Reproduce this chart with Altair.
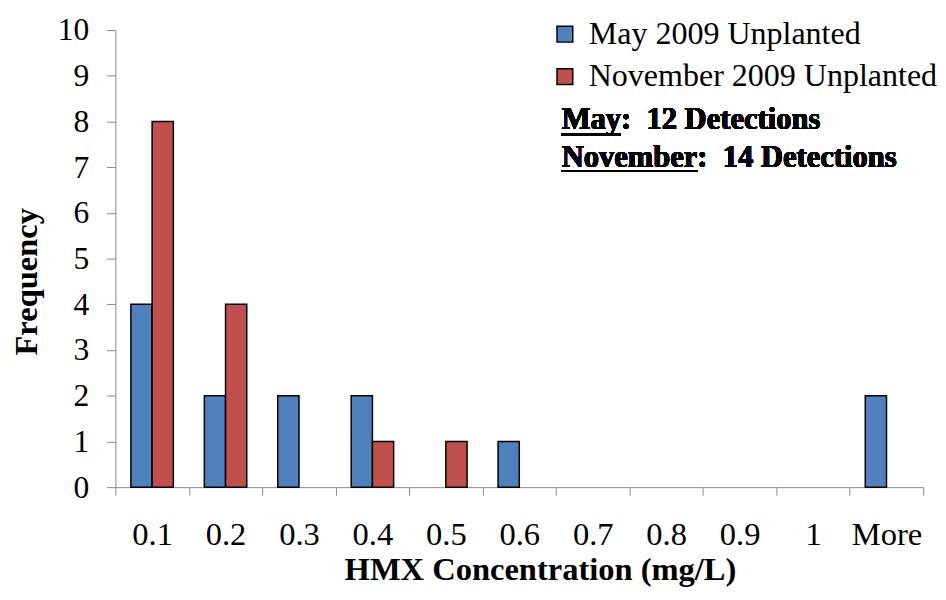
import altair as alt
import pandas as pd

categories = ["0.1", "0.2", "0.3", "0.4", "0.5", "0.6", "0.7", "0.8", "0.9", "1", "More"]
series_names = ["May 2009 Unplanted", "November 2009 Unplanted"]
may_values = [4, 2, 2, 2, 0, 1, 0, 0, 0, 0, 2]
nov_values = [8, 4, 0, 1, 1, 0, 0, 0, 0, 0, 0]
colors = ["#4F81BD", "#C0504D"]
y_ticks = list(range(0, 11))
note_lines = ["May:\u00a0 12 Detections", "November:\u00a0 14 Detections"]
note_underlined = ["May", "November"]

rows = []
for c, v in zip(categories, may_values):
    rows.append({"cat": c, "series": series_names[0], "value": v})
for c, v in zip(categories, nov_values):
    rows.append({"cat": c, "series": series_names[1], "value": v})
df = pd.DataFrame(rows)

FONT = "Liberation Serif"
W, H = 820, 464

bars = alt.Chart(df).transform_filter("datum.value > 0").mark_bar(
    stroke="black", strokeWidth=1.5
).encode(
    x=alt.X("cat:N", sort=categories, title="HMX Concentration (mg/L)",
            scale=alt.Scale(domain=categories, paddingInner=0, paddingOuter=0),
            axis=alt.Axis(labelAngle=0, tickBand="extent", tickSize=8,
                          labelPadding=24, labelFontSize=33, labelFont=FONT,
                          labelColor="black", titleFont=FONT, titleFontSize=33,
                          titleFontWeight="bold", titleColor="black",
                          titleX=431, titleY=94, titleBaseline="alphabetic",
                          domainColor="#868686", tickColor="#868686", grid=False)),
    xOffset=alt.XOffset("series:N", sort=series_names,
                        scale=alt.Scale(domain=series_names, paddingOuter=0.73, paddingInner=0)),
    y=alt.Y("value:Q", title="Frequency",
            scale=alt.Scale(domain=[0, 10], nice=False),
            axis=alt.Axis(values=y_ticks, tickSize=9, labelPadding=18,
                          labelFontSize=32, labelFont=FONT, labelColor="black",
                          titleFont=FONT, titleFontSize=33, titleFontWeight="bold",
                          titleColor="black", titlePadding=14, titleY=255,
                          domainColor="#868686", tickColor="#868686", grid=False)),
    color=alt.Color("series:N", sort=series_names,
                    scale=alt.Scale(domain=series_names, range=colors),
                    legend=alt.Legend(title=None, orient="none", legendX=440, legendY=-12,
                                      symbolType="square", symbolSize=256,
                                      symbolStrokeColor="black", symbolStrokeWidth=1.5,
                                      symbolOpacity=1, labelLimit=0,
                                      labelFont=FONT, labelFontSize=32.5, labelColor="black",
                                      labelOffset=8, rowPadding=10, padding=0)),
)

notes = []
note_baselines = [100.5, 139]
for line, yb in zip(note_lines, note_baselines):
    notes.append(alt.Chart(df).mark_text(
        align="left", baseline="alphabetic", font=FONT, fontSize=31,
        fontWeight="bold", color="black"
    ).encode(x=alt.value(453), y=alt.value(yb), text=alt.value(line)))

underline_widths = [60, 138]
underline_ys = [106, 143]
for w, yu in zip(underline_widths, underline_ys):
    notes.append(alt.Chart(df).mark_rule(color="black", strokeWidth=2).encode(
        x=alt.value(453), x2=alt.value(453 + w), y=alt.value(yu)))

chart = alt.layer(bars, *notes).properties(
    width=W, height=H,
    padding={"left": 3, "top": 2, "right": 0, "bottom": 0}
).configure_view(stroke=None)

chart.save("out.html", embed_options={"renderer": "svg", "actions": False})
